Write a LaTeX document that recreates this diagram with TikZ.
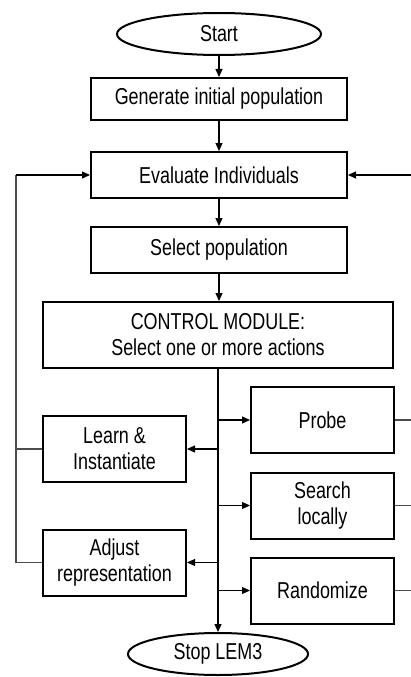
\documentclass[tikz,border=0pt]{standalone}
\usepackage{fontspec}
\setmainfont[FakeStretch=0.78]{Liberation Sans}
\usetikzlibrary{arrows.meta, positioning, shapes.geometric}

\begin{document}
\begin{tikzpicture}[
    x=1pt, y=-1pt,
    font=\fontsize{23}{26}\selectfont,
    box/.style={draw, line width=2pt, align=center, inner sep=0pt},
    wide/.style={box, minimum width=256pt, minimum height=44pt},
    act/.style={box, minimum width=143pt, minimum height=66pt},
    term/.style={ellipse, draw, line width=2pt, inner sep=0pt},
    flow/.style={line width=1.1pt, -{Triangle[length=8pt,width=7pt]}},
    back/.style={line width=1.1pt, black!70},
]
  \useasboundingbox (0,0) rectangle (411,677);

  % ---- Main column ----
  \node[term, minimum width=204pt, minimum height=42pt] (start) at (219,34) {Start};
  \node[wide, minimum height=42pt] (gen) at (219,99) {Generate initial population};
  \node[wide, minimum height=46pt] (eval) at (219,175) {Evaluate Individuals};
  \node[wide, minimum height=46pt] (sel) at (219,250) {Select population};
  \node[box, minimum width=350pt, minimum height=66pt] (ctrl) at (218,335)
    {CONTROL MODULE:\\Select one or more actions};
  \node[term, minimum width=180pt, minimum height=42pt] (stop) at (218,654) {Stop LEM3};

  % ---- Actions ----
  \node[act] (probe)  at (322.5,420)   {Probe};
  \node[act] (search) at (322.5,505.5) {Search\\locally};
  \node[act] (rand)   at (322.5,590.5) {Randomize};
  \node[act] (learn)  at (114.5,449)   {Learn \&\\Instantiate};
  \node[act] (adjust) at (114.5,562.5) {Adjust\\representation};

  % ---- Flow ----
  \draw[flow] (start) -- (gen);
  \draw[flow] (gen) -- (eval);
  \draw[flow] (eval) -- (sel);
  \draw[flow] (sel) -- (sel |- ctrl.north);
  \draw[flow] (ctrl.south) -- (stop.north);

  \draw[flow] (ctrl.south |- probe)  -- (probe.west);
  \draw[flow] (ctrl.south |- search) -- (search.west);
  \draw[flow] (ctrl.south |- rand)   -- (rand.west);
  \draw[flow] (ctrl.south |- learn)  -- (learn.east);
  \draw[flow] (ctrl.south |- adjust) -- (adjust.east);

  % ---- Loops back to evaluation ----
  \coordinate (lft) at (16,175);
  \coordinate (rgt) at (411,175);
  \draw[back] (learn.west) -- (learn.west -| lft);
  \draw[back] (adjust.west) -- (adjust.west -| lft) -- (lft);
  \draw[flow] (lft) -- (eval.west);

  \draw[back] (probe.east)  -- (probe.east -| rgt);
  \draw[back] (search.east) -- (search.east -| rgt);
  \draw[back] (rand.east)   -- (rand.east -| rgt);
  \draw[flow] (rgt) -- (eval.east);
\end{tikzpicture}
\end{document}
